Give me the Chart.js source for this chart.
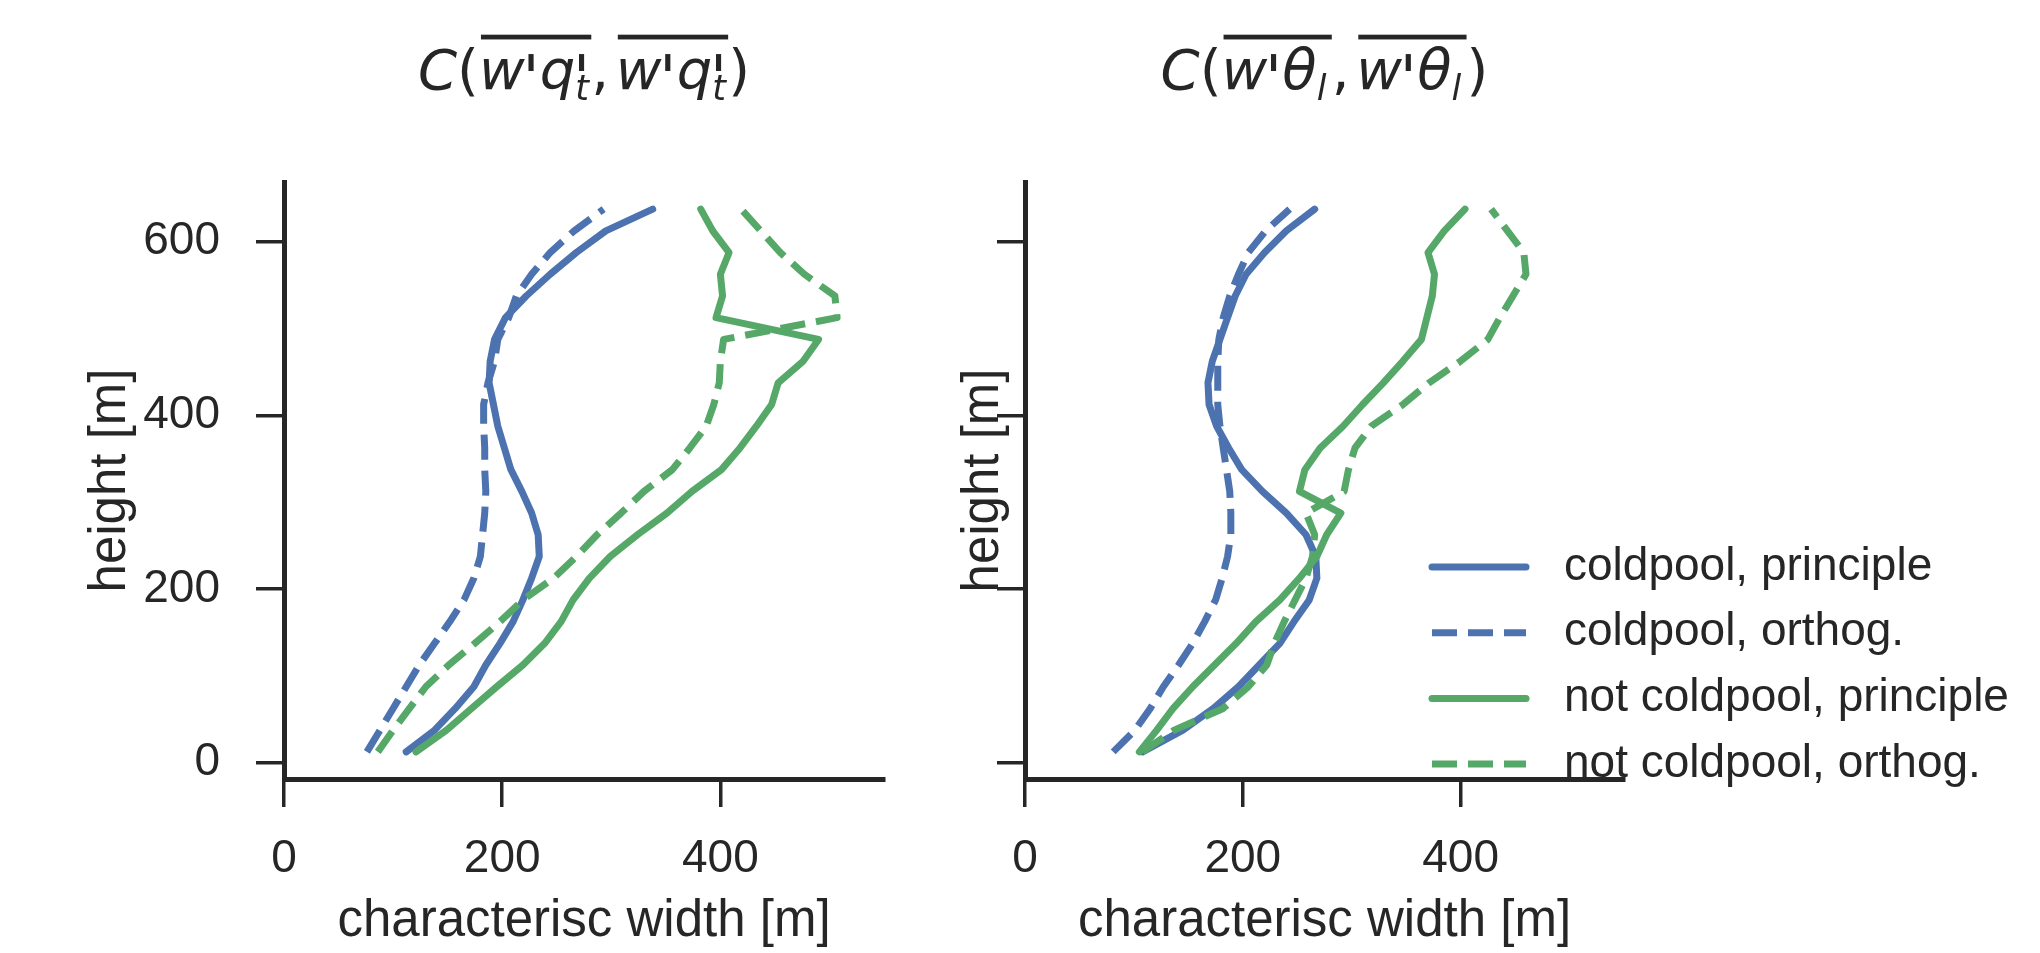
<!DOCTYPE html>
<html>
<head>
<meta charset="utf-8">
<title>characteristic widths</title>
<script src="https://cdn.jsdelivr.net/npm/chart.js@4.4.1/dist/chart.umd.min.js"></script>
<style>
  html, body { margin: 0; padding: 0; background: #fff; }
  body { width: 2040px; height: 953px; position: relative; overflow: hidden; }
  canvas { position: absolute; top: 0; }
  #qtChart { left: 0; }
  #thChart { left: 940px; }
</style>
</head>
<body>
<canvas id="qtChart" width="940" height="953"></canvas>
<canvas id="thChart" width="1100" height="953"></canvas>
<script>
// model levels [m]
const heights = [12.5, 37.5, 62.5, 87.5, 112.5, 137.5, 162.5, 187.5, 212.5, 237.5, 262.5, 287.5, 312.5,
                 337.5, 362.5, 387.5, 412.5, 437.5, 462.5, 487.5, 512.5, 537.5, 562.5, 587.5, 612.5, 637.5];

// characteristic width from w'q_t' [m]
const qtColdPrinc    = [112, 138, 157, 174, 185, 198, 210, 219, 227, 234, 233, 227, 218, 208, 202, 196, 192, 188, 189, 193, 203, 222, 244, 268, 295, 338];
const qtColdOrth     = [76, 88, 100, 112, 124, 138, 152, 165, 174, 180, 182, 184, 185, 184, 184, 183, 183, 187, 193, 196, 206, 213, 227, 244, 266, 293];
const qtNotColdPrinc = [121, 149, 172, 195, 219, 239, 254, 265, 280, 299, 324, 351, 374, 401, 418, 433, 447, 453, 476, 490, 396, 402, 400, 408, 393, 382];
const qtNotColdOrth  = [86, 100, 115, 130, 151, 175, 198, 219, 247, 268, 287, 309, 330, 356, 372, 387, 394, 399, 400, 403, 507, 505, 477, 455, 437, 419];

// characteristic width from w'theta_l' [m]
const thColdPrinc    = [108, 145, 173, 196, 215, 234, 247, 261, 268, 267, 258, 240, 218, 199, 187, 176, 169, 168, 172, 179, 186, 193, 203, 220, 240, 266];
const thColdOrth     = [81, 101, 115, 127, 141, 154, 165, 175, 181, 186, 189, 189, 188, 185, 182, 179, 177, 177, 177, 178, 182, 188, 196, 205, 221, 243];
const thNotColdPrinc = [105, 121, 136, 154, 174, 194, 212, 234, 252, 268, 277, 290, 252, 257, 271, 292, 310, 329, 347, 364, 369, 374, 376, 370, 385, 404];
const thNotColdOrth  = [108, 137, 182, 205, 222, 229, 238, 248, 258, 264, 266, 258, 293, 297, 303, 318, 347, 371, 400, 425, 436, 448, 460, 458, 443, 428];

const seriesLabels = ['coldpool, principle', 'coldpool, orthog.', 'not coldpool, principle', 'not coldpool, orthog.'];
const xTicks = [0, 200, 400];
const yTicks = [0, 200, 400, 600];

const blue = '#4C72B0';
const green = '#55A868';
const ink = '#262626';
const sans = '"Liberation Sans", Arial, sans-serif';
const seriesColors = [blue, blue, green, green];
const lineW = 7;
const dash = [25, 11];

function makeDatasets(series) {
  return series.map((vals, i) => ({
    label: seriesLabels[i],
    data: vals.map((w, k) => ({ x: w, y: heights[k] })),
    showLine: true,
    borderColor: seriesColors[i],
    borderWidth: lineW,
    borderDash: i % 2 ? dash : [],
    borderCapStyle: i % 2 ? 'butt' : 'round',
    borderJoinStyle: 'round',
    pointRadius: 0,
    tension: 0,
    order: 4 - i   // later series on top
  }));
}

// titles like C(\overline{w'q'_t}, ...) drawn piece by piece
const mathTitle = {
  id: 'mathTitle',
  afterDraw(chart, args, opts) {
    if (!opts.parts) return;
    const ctx = chart.ctx;
    const size = opts.size;
    const fIt = `italic ${size}px "DejaVu Sans"`;
    const fRm = `${size}px "DejaVu Sans"`;
    const fPr = `italic ${Math.round(size * 1.1)}px "DejaVu Sans"`;
    const fSm = `italic ${Math.round(size * 0.62)}px "DejaVu Sans"`;

    function tw(font, s) { ctx.font = font; return ctx.measureText(s).width; }
    function width(tok) {
      const [kind, a, b] = tok;
      if (kind === 'bar') return a.reduce((s, t) => s + width(t), 0);
      if (kind === 'it') return tw(fIt, a);
      if (kind === 'rm') return tw(fRm, a);
      if (kind === 'gap') return a * size;
      // sup / sub / supsub
      return Math.max(a ? tw(fPr, a) * 0.75 : 0, b ? tw(fSm, b) : 0) + 0.04 * size;
    }
    function draw(tok, x, y) {
      const [kind, a, b] = tok;
      if (kind === 'bar') {
        let cx = x;
        a.forEach(t => { draw(t, cx, y); cx += width(t); });
        ctx.fillRect(x + 2, y - size * 0.97, cx - x - 2, size * 0.085);
        return;
      }
      if (kind === 'it') { ctx.font = fIt; ctx.fillText(a, x, y); return; }
      if (kind === 'rm') { ctx.font = fRm; ctx.fillText(a, x, y); return; }
      if (kind === 'gap') return;
      if (kind === 'sup' || kind === 'supsub') { ctx.font = fPr; ctx.fillText(a, x - size * 0.04, y + size * 0.2); }
      ctx.font = fSm;
      if (kind === 'sub') ctx.fillText(a, x, y + size * 0.2);
      if (kind === 'supsub') ctx.fillText(b, x, y + size * 0.2);
    }

    const total = opts.parts.reduce((s, t) => s + width(t), 0);
    const area = chart.chartArea;
    let x = (area.left + area.right) / 2 - total / 2;
    ctx.save();
    ctx.fillStyle = ink;
    ctx.textBaseline = 'alphabetic';
    ctx.textAlign = 'left';
    opts.parts.forEach(t => { draw(t, x, opts.baseline); x += width(t); });
    ctx.restore();
  }
};

// legend without frame, sitting over the lower right of the second panel
const seriesKey = {
  id: 'seriesKey',
  afterDraw(chart, args, opts) {
    if (!opts.show) return;
    const ctx = chart.ctx;
    ctx.save();
    seriesLabels.forEach((label, i) => {
      const y = opts.top + i * opts.step;
      ctx.strokeStyle = seriesColors[i];
      ctx.lineWidth = lineW;
      ctx.lineCap = i % 2 ? 'butt' : 'round';
      ctx.setLineDash(i % 2 ? dash : []);
      ctx.beginPath();
      ctx.moveTo(opts.x0, y);
      ctx.lineTo(opts.x1, y);
      ctx.stroke();
      ctx.setLineDash([]);
      ctx.fillStyle = ink;
      ctx.font = `46px ${sans}`;
      ctx.textBaseline = 'middle';
      ctx.fillText(label, opts.textX, y);
    });
    ctx.restore();
  }
};

function makePanel(canvasId, series, cfg) {
  return new Chart(document.getElementById(canvasId), {
    type: 'scatter',
    data: { datasets: makeDatasets(series) },
    options: {
      responsive: false,
      animation: false,
      devicePixelRatio: 1,
      layout: { padding: { top: 182, right: cfg.padRight, left: 0, bottom: 0 } },
      plugins: {
        legend: { display: false },
        tooltip: { enabled: false },
        mathTitle: { parts: cfg.title, size: 56, baseline: 89 },
        seriesKey: cfg.key || { show: false }
      },
      scales: {
        x: {
          type: 'linear',
          min: 0,
          max: 550,
          afterFit: s => { s.height = 174; },
          afterBuildTicks: s => { s.ticks = xTicks.map(v => ({ value: v })); },
          grid: { drawOnChartArea: false, drawTicks: true, tickLength: 28, lineWidth: 3.5, color: ink },
          border: { display: true, width: 5, color: ink },
          ticks: { padding: 25, color: ink, maxRotation: 0, font: { family: sans, size: 46 } },
          title: {
            display: true, text: 'characterisc width [m]', color: ink,
            font: { family: sans, size: 51 }, padding: { top: 0, bottom: 0 }
          }
        },
        y: {
          type: 'linear',
          min: -18.75,
          max: 668.75,
          afterFit: s => { s.width = cfg.yWidth; },
          afterBuildTicks: s => { s.ticks = yTicks.map(v => ({ value: v })); },
          grid: { drawOnChartArea: false, drawTicks: true, tickLength: 28, lineWidth: 3.5, color: ink },
          border: { display: true, width: 5, color: ink },
          ticks: { display: cfg.yLabels, padding: 36, color: ink, font: { family: sans, size: 46 } },
          title: {
            display: true, text: 'height [m]', color: ink,
            font: { family: sans, size: 51 }, padding: { top: cfg.yTitlePad, bottom: 0 }
          }
        }
      }
    },
    plugins: [mathTitle, seriesKey]
  });
}

const qtBar = ['bar', [['it', 'w'], ['sup', "'"], ['it', 'q'], ['supsub', "'", 't']]];
const thBar = ['bar', [['it', 'w'], ['sup', "'"], ['it', 'θ'], ['sub', 'l']]];

makePanel('qtChart', [qtColdPrinc, qtColdOrth, qtNotColdPrinc, qtNotColdOrth], {
  padRight: 56,
  yWidth: 284,
  yLabels: true,
  yTitlePad: 80,
  title: [['it', 'C'], ['rm', '('], qtBar, ['rm', ','], ['gap', 0.12], qtBar, ['rm', ')']]
});

makePanel('thChart', [thColdPrinc, thColdOrth, thNotColdPrinc, thNotColdOrth], {
  padRight: 416,
  yWidth: 85,
  yLabels: false,
  yTitlePad: 13,
  title: [['it', 'C'], ['rm', '('], thBar, ['rm', ','], ['gap', 0.12], thBar, ['rm', ')']],
  key: { show: true, x0: 492, x1: 586, textX: 624, top: 567, step: 65.7 }
});
</script>
</body>
</html>
